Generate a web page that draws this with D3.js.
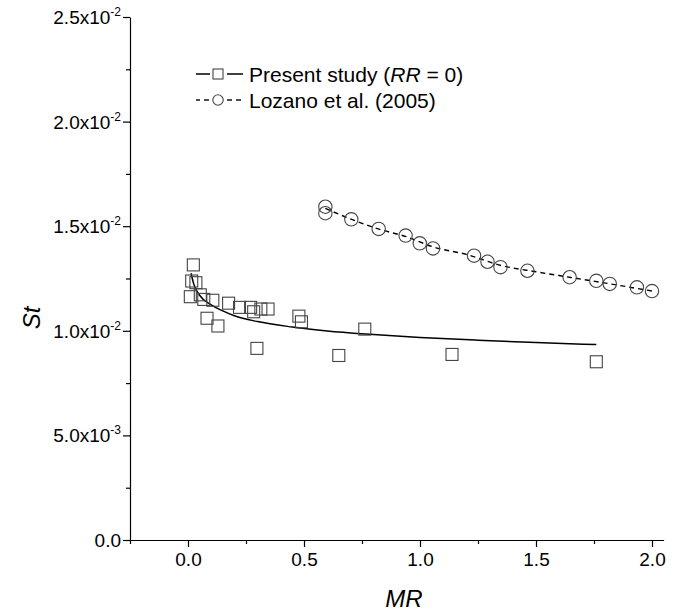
<!DOCTYPE html>
<html>
<head>
<meta charset="utf-8">
<script src="https://cdn.jsdelivr.net/npm/d3@7"></script>
<style>
  html, body { margin: 0; padding: 0; background: #fff; }
  svg { display: block; font-family: "Liberation Sans", Arial, sans-serif; }
</style>
</head>
<body>
<svg id="chart" width="675" height="615"></svg>
<script>
// ---------- data ----------
// Present study (RR = 0): measured points
const presentMR = [0.023, 0.016, 0.034, 0.010, 0.053, 0.068, 0.107, 0.175, 0.222, 0.270, 0.283,
                   0.314, 0.345, 0.478, 0.489, 0.762, 0.082, 0.129, 0.297, 0.650, 1.138, 1.760];
const presentSt = [0.01315, 0.01238, 0.01230, 0.01163, 0.01172, 0.01150, 0.01146, 0.01132, 0.01112, 0.01112, 0.01091,
                   0.01104, 0.01104, 0.01070, 0.01043, 0.01008, 0.01060, 0.01023, 0.00916, 0.00882, 0.00887, 0.00852];
// Present study: fitted curve (solid)
const fitMR = [0.013, 0.025, 0.05, 0.10, 0.15, 0.20, 0.30, 0.45, 0.60, 0.80, 1.00, 1.25, 1.50, 1.76];
const fitSt = [0.01275, 0.01223, 0.01170, 0.01124, 0.01095, 0.01072, 0.01044, 0.01018, 0.00999, 0.00982, 0.00968, 0.00955, 0.00944, 0.00934];
// Lozano et al. (2005)
const lozanoMR = [0.592, 0.592, 0.704, 0.822, 0.938, 0.999, 1.056, 1.233, 1.291, 1.347, 1.463, 1.645, 1.760, 1.818, 1.935, 2.000];
const lozanoSt = [0.01593, 0.01562, 0.01533, 0.01487, 0.01455, 0.01418, 0.01394, 0.01359, 0.01330, 0.01304, 0.01287, 0.01256, 0.01239, 0.01224, 0.01208, 0.01190];
// Lozano fitted curve (dashed)
const lozFitMR = [0.592, 0.70, 0.82, 0.94, 1.06, 1.20, 1.35, 1.50, 1.65, 1.80, 2.00];
const lozFitSt = [0.01585, 0.01535, 0.01487, 0.01450, 0.01400, 0.01365, 0.01312, 0.01282, 0.01255, 0.01228, 0.01190];

// axes
const xTicks = [0.0, 0.5, 1.0, 1.5, 2.0];
const xTickLabels = ["0.0", "0.5", "1.0", "1.5", "2.0"];
const xMinor = [-0.25, 0.25, 0.75, 1.25, 1.75];
const yTicks = [0, 0.005, 0.010, 0.015, 0.020, 0.025];
const yTickMant = ["0.0", "5.0x10", "1.0x10", "1.5x10", "2.0x10", "2.5x10"];
const yTickExp = ["", "-3", "-2", "-2", "-2", "-2"];
const yMinor = [0.0025, 0.0075, 0.0125, 0.0175, 0.0225];
const legendLabels = ["Present study (", "Lozano et al. (2005)"];

// ---------- drawing ----------
const svg = d3.select("#chart");
const x = d3.scaleLinear().domain([-0.25, 2.05]).range([130, 663.6]);
const y = d3.scaleLinear().domain([0, 0.025]).range([540, 17]);

// x axis
const gx = svg.append("g").attr("transform", "translate(0,540)")
  .call(d3.axisBottom(x).tickValues(xTicks).tickSize(7).tickSizeOuter(0).tickPadding(6)
        .tickFormat((d, i) => xTickLabels[i]));
gx.append("g").call(d3.axisBottom(x).tickValues(xMinor).tickSize(4).tickFormat(""))
  .select(".domain").remove();
gx.selectAll("text").attr("font-size", 19).attr("fill", "#000")
  .attr("font-family", "'Liberation Sans', Arial, sans-serif");

// y axis
const gy = svg.append("g").attr("transform", "translate(130,0)")
  .call(d3.axisLeft(y).tickValues(yTicks).tickSize(7).tickSizeOuter(0).tickFormat(""));
gy.append("g").call(d3.axisLeft(y).tickValues(yMinor).tickSize(4).tickFormat(""))
  .select(".domain").remove();
svg.selectAll(".domain, .tick line").attr("stroke", "#000").attr("stroke-width", 1.2);

const yl = svg.append("g").selectAll("text").data(yTicks).join("text")
  .attr("x", 121).attr("y", d => y(d) + 7)
  .attr("text-anchor", "end").attr("font-size", 19).attr("fill", "#000");
yl.append("tspan").text((d, i) => yTickMant[i]);
yl.append("tspan").attr("font-size", 12).attr("dy", -8).text((d, i) => yTickExp[i]);

// axis titles
svg.append("text").attr("x", 404).attr("y", 607).attr("text-anchor", "middle")
  .attr("font-size", 24).attr("font-style", "italic").text("MR");
svg.append("text").attr("transform", "translate(40,318) rotate(-90)").attr("text-anchor", "middle")
  .attr("font-size", 24).attr("font-style", "italic").text("St");

// curves
const fitData = fitMR.map((m, i) => [m, fitSt[i]]);
const lozFitData = lozFitMR.map((m, i) => [m, lozFitSt[i]]);
const line = d3.line().x(d => x(d[0])).y(d => y(d[1])).curve(d3.curveMonotoneX);
svg.append("path").attr("d", line(fitData)).attr("fill", "none").attr("stroke", "#000").attr("stroke-width", 1.5);
svg.append("path").attr("d", line(lozFitData)).attr("fill", "none").attr("stroke", "#000")
  .attr("stroke-width", 1.4).attr("stroke-dasharray", "5,4");

// markers
svg.append("g").selectAll("rect").data(presentMR).join("rect")
  .attr("x", (d) => x(d) - 6).attr("y", (d, i) => y(presentSt[i]) - 6)
  .attr("width", 12).attr("height", 12)
  .attr("fill", "none").attr("stroke", "#444").attr("stroke-width", 1.1);
svg.append("g").selectAll("circle").data(lozanoMR).join("circle")
  .attr("cx", d => x(d)).attr("cy", (d, i) => y(lozanoSt[i])).attr("r", 6.7)
  .attr("fill", "none").attr("stroke", "#444").attr("stroke-width", 1.1);

// legend
const lg = svg.append("g");
const row1 = 74, row2 = 100;
[[196, 210], [227, 243]].forEach(s => lg.append("line")
  .attr("x1", s[0]).attr("x2", s[1]).attr("y1", row1).attr("y2", row1)
  .attr("stroke", "#000").attr("stroke-width", 1.5));
lg.append("rect").attr("x", 213).attr("y", row1 - 5).attr("width", 10).attr("height", 10)
  .attr("fill", "#fff").attr("stroke", "#444").attr("stroke-width", 1.1);
[[196, 200], [204, 209], [227, 232], [236, 241]].forEach(s => lg.append("line")
  .attr("x1", s[0]).attr("x2", s[1]).attr("y1", row2).attr("y2", row2)
  .attr("stroke", "#000").attr("stroke-width", 1.4));
lg.append("circle").attr("cx", 218).attr("cy", row2).attr("r", 5.2)
  .attr("fill", "#fff").attr("stroke", "#444").attr("stroke-width", 1.1);
const t1 = lg.append("text").attr("x", 249).attr("y", row1 + 7.5).attr("font-size", 21);
t1.append("tspan").text(legendLabels[0]);
t1.append("tspan").attr("font-style", "italic").text("RR");
t1.append("tspan").text(" = 0)");
lg.append("text").attr("x", 249).attr("y", row2 + 7.5).attr("font-size", 21).text(legendLabels[1]);
</script>
</body>
</html>
